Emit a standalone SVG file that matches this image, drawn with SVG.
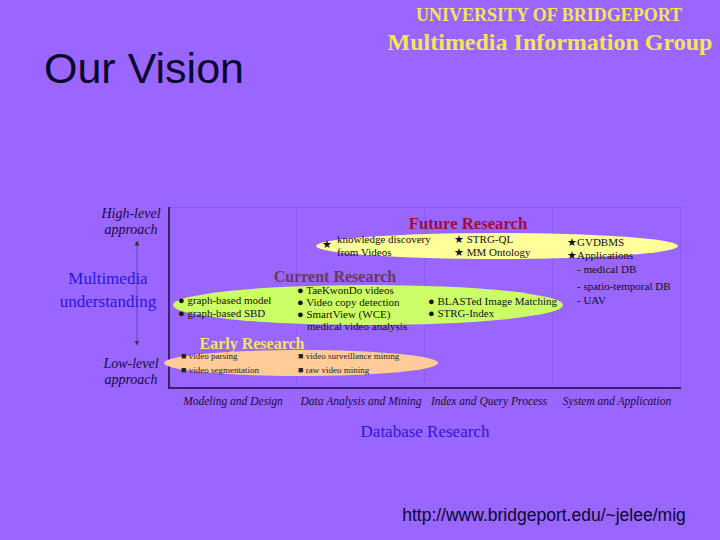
<svg xmlns="http://www.w3.org/2000/svg" width="720" height="540" viewBox="0 0 720 540">
<defs>
<style>
.serif{font-family:"Liberation Serif","Times New Roman",serif}
.it{font-family:"Liberation Serif",serif;font-style:italic;fill:#1a0a40}
.item{font-family:"Liberation Serif",serif;font-size:11px;fill:#111}
.small{font-family:"Liberation Serif",serif;font-size:9px;fill:#222}
.blue{font-family:"Liberation Serif",serif;font-size:17px;fill:#2a18d8}
.div{stroke:#8a5ae8;stroke-width:1}
</style>
<marker id="ah" viewBox="0 0 10 10" refX="5" refY="5" markerWidth="5" markerHeight="5" orient="auto-start-reverse"><path d="M0,0 L10,5 L0,10 z" fill="#333"/></marker>
</defs>
<rect width="720" height="540" fill="#9966ff"/>
<g id="header">
<text x="44" y="83" font-family="Liberation Sans,Arial,sans-serif" font-size="43" fill="#0a0630">Our Vision</text>
<text x="549" y="21" text-anchor="middle" class="serif" font-weight="bold" font-size="18" fill="#f5e45a">UNIVERSITY OF BRIDGEPORT</text>
<text x="550" y="50" text-anchor="middle" class="serif" font-weight="bold" font-size="24" fill="#f5e45a">Multimedia Information Group</text>
<text x="544" y="521" text-anchor="middle" font-family="Liberation Sans,Arial,sans-serif" font-size="17.5" fill="#0a0630">http://www.bridgeport.edu/~jelee/mig</text>
</g>
<g id="frame">
<line class="div" x1="169" y1="207.5" x2="681" y2="207.5"/>
<line class="div" x1="681" y1="207" x2="681" y2="388"/>
<line class="div" x1="297" y1="207" x2="297" y2="388"/>
<line class="div" x1="425" y1="207" x2="425" y2="388"/>
<line class="div" x1="553" y1="207" x2="553" y2="388"/>
<line x1="169" y1="207" x2="169" y2="389" stroke="#1a0a40" stroke-width="1.5"/>
<line x1="169" y1="388" x2="681" y2="388" stroke="#1a0a40" stroke-width="1.5"/>
</g>
<g id="connectors">
<line x1="137" y1="243" x2="137" y2="343" stroke="#6a45c0" stroke-width="1" marker-start="url(#ah)" marker-end="url(#ah)"/>
</g>
<g id="axis-labels">
<text class="it" font-size="14" text-anchor="middle"><tspan x="131" y="218">High-level</tspan><tspan x="131" y="234">approach</tspan></text>
<text class="blue" text-anchor="middle"><tspan x="108" y="284">Multimedia</tspan><tspan x="108" y="307">understanding</tspan></text>
<text class="it" font-size="14" text-anchor="middle"><tspan x="131" y="368">Low-level</tspan><tspan x="131" y="384">approach</tspan></text>
<text class="it" font-size="11.5" text-anchor="middle" x="233" y="405">Modeling and Design</text>
<text class="it" font-size="11.5" text-anchor="middle" x="361" y="405">Data Analysis and Mining</text>
<text class="it" font-size="11.5" text-anchor="middle" x="489" y="405">Index and Query Process</text>
<text class="it" font-size="11.5" text-anchor="middle" x="617" y="405">System and Application</text>
<text class="blue" text-anchor="middle" x="425" y="437">Database Research</text>
</g>
<g id="future">
<ellipse cx="497" cy="246" rx="181" ry="13" fill="#ffff99"/>
<text x="468" y="229" text-anchor="middle" class="serif" font-weight="bold" font-size="16.7" fill="#99103a">Future Research</text>
<text class="item"><tspan x="322" y="248">★</tspan><tspan x="337" y="243">knowledge discovery</tspan><tspan x="337" y="256">from Videos</tspan></text>
<text class="item"><tspan x="454" y="243">★ STRG-QL</tspan><tspan x="454" y="256">★ MM Ontology</tspan></text>
<text class="item"><tspan x="567" y="246">★GVDBMS</tspan><tspan x="567" y="259">★Applications</tspan><tspan x="577" y="273">- medical DB</tspan><tspan x="577" y="290">- spatio-temporal DB</tspan><tspan x="577" y="304">- UAV</tspan></text>
</g>
<g id="current">
<ellipse cx="368" cy="305" rx="195" ry="20" fill="#ccff66"/>
<text x="335" y="282" text-anchor="middle" class="serif" font-weight="bold" font-size="16" fill="#6a3a5a">Current Research</text>
<text class="item"><tspan x="178" y="304">● graph-based model</tspan><tspan x="178" y="317">● graph-based SBD</tspan></text>
<text class="item"><tspan x="297" y="294">● TaeKwonDo videos</tspan><tspan x="297" y="306">● Video copy detection</tspan><tspan x="297" y="318">● SmartView (WCE)</tspan><tspan x="307" y="330">medical video analysis</tspan></text>
<text class="item"><tspan x="428" y="305">● BLASTed Image Matching</tspan><tspan x="428" y="317">● STRG-Index</tspan></text>
</g>
<g id="early">
<ellipse cx="301" cy="363" rx="137" ry="13" fill="#ffcc99"/>
<text x="252" y="349" text-anchor="middle" class="serif" font-weight="bold" font-size="16" fill="#f5e45a">Early Research</text>
<text class="small"><tspan x="181" y="359">■ video parsing</tspan><tspan x="181" y="373">■ video segmentation</tspan></text>
<text class="small"><tspan x="298" y="359">■ video surveillance mining</tspan><tspan x="298" y="373">■ raw video mining</tspan></text>
</g>
</svg>
